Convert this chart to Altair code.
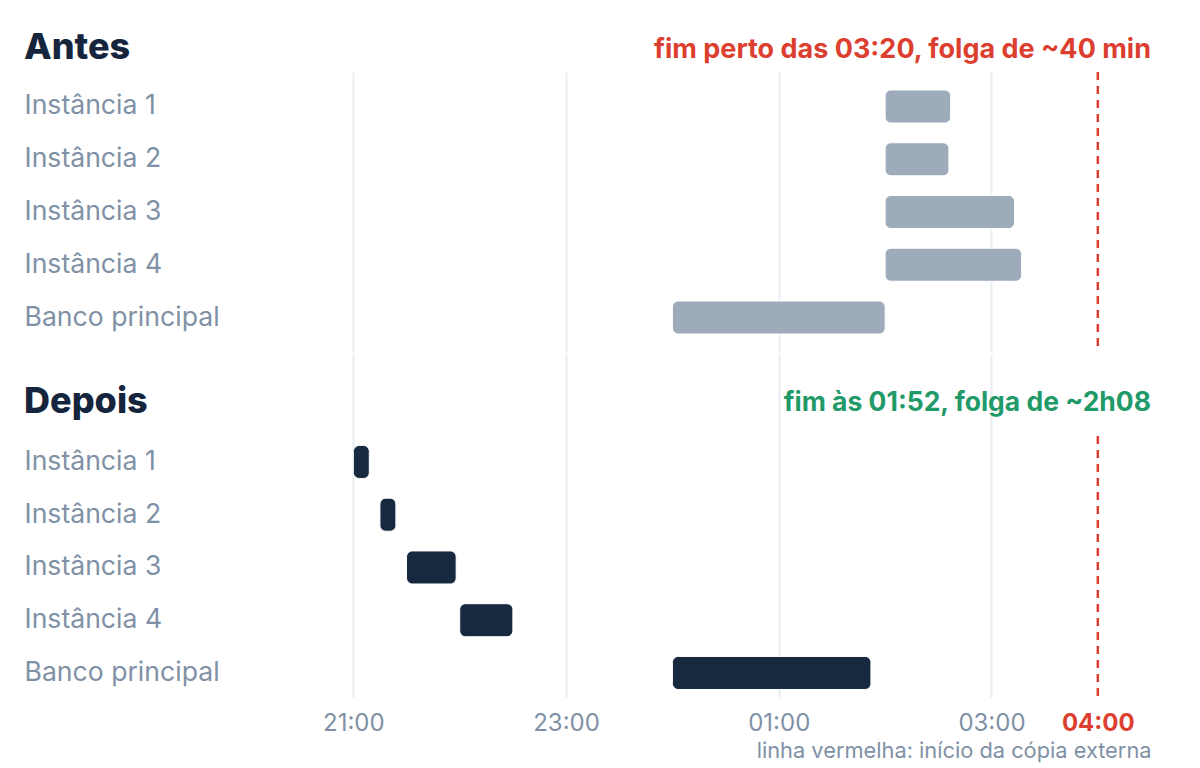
import altair as alt
import pandas as pd

# ---- data ----
linhas = ["Instância 1", "Instância 2", "Instância 3", "Instância 4", "Banco principal"]
antes_inicio = ["02:00", "02:00", "02:00", "02:00", "00:00"]
antes_fim = ["02:37", "02:36", "03:13", "03:17", "02:00"]
depois_inicio = ["21:00", "21:15", "21:30", "22:00", "00:00"]
depois_fim = ["21:09", "21:24", "21:58", "22:30", "01:52"]
ticks_horas = [21, 23, 25, 27]          # 21:00, 23:00, 01:00, 03:00
limite_hora = 28                        # 04:00 (início da cópia externa)
dominio = [20, 28.5]

nota_antes = "fim perto das 03:20, folga de ~40 min"
nota_depois = "fim às 01:52, folga de ~2h08"
legenda = "linha vermelha: início da cópia externa"

FONT = "Inter"
NAVY = "#15253d"
GRAY_TXT = "#8091a6"
GRAY_BAR = "#9dabbb"
DARK_BAR = "#17293f"
RED = "#dc3f2f"
GREEN = "#1f9a68"
GRID = "#e9edf3"
W = 904
LABEL_PAD = 223


def to_h(s):
    h, m = map(int, s.split(":"))
    v = h + m / 60
    return v + 24 if v < 12 else v


def panel(titulo, inicio, fim, cor, nota, cor_nota, note_size, height, pad_outer, align,
          is_last, title_offset, note_y):
    df = pd.DataFrame({
        "linha": linhas,
        "inicio": [to_h(s) for s in inicio],
        "fim": [to_h(s) for s in fim],
    })
    xscale = alt.Scale(domain=dominio, nice=False, zero=False)
    yscale = alt.Scale(domain=linhas, paddingInner=0.374, paddingOuter=pad_outer, align=align)
    yaxis = alt.Axis(title=None, domain=False, ticks=False, labelAlign="left",
                     labelPadding=LABEL_PAD, labelFont=FONT, labelFontSize=26.6,
                     labelColor=GRAY_TXT, labelLimit=400)
    if is_last:
        xaxis = alt.Axis(
            values=ticks_horas + [limite_hora],
            labelExpr="(datum.value % 24 < 10 ? '0' : '') + (datum.value % 24) + ':00'",
            labelColor={"condition": {"test": f"datum.value == {limite_hora}", "value": RED},
                        "value": GRAY_TXT},
            labelFontWeight={"condition": {"test": f"datum.value == {limite_hora}", "value": "bold"},
                             "value": "normal"},
            labelFont=FONT, labelFontSize=24, labelPadding=14,
            ticks=False, domain=False, grid=True, gridColor=GRID, gridWidth=2,
            gridOpacity={"condition": {"test": f"datum.value == {limite_hora}", "value": 0},
                         "value": 1},
            title=legenda, titleAnchor="end", titleAlign="right", titleFont=FONT,
            titleFontSize=21.8, titleFontWeight="normal", titleColor=GRAY_TXT, titlePadding=5,
        )
    else:
        xaxis = alt.Axis(values=ticks_horas, labels=False, ticks=False, domain=False,
                         grid=True, gridColor=GRID, gridWidth=2, title=None)

    bars = alt.Chart(df).mark_bar(cornerRadius=6, color=cor, stroke="white",
                                  strokeWidth=1).encode(
        x=alt.X("inicio:Q", scale=xscale, axis=xaxis),
        x2="fim:Q",
        y=alt.Y("linha:N", sort=linhas, scale=yscale, axis=yaxis),
    )

    rdf = pd.DataFrame({"x": [limite_hora], "linha": [linhas[0]], "linha_fim": [linhas[-1]]})
    if is_last:
        rule = alt.Chart(rdf).mark_rule(color=RED, strokeWidth=2.5, strokeDash=[8, 6],
                                        yOffset=-9.5, y2Offset=7.5).encode(
            x=alt.X("x:Q", scale=xscale),
            y=alt.Y("linha:N", scale=yscale, bandPosition=0),
            y2=alt.Y2("linha_fim:N", bandPosition=1),
        )
    else:
        rule = alt.Chart(rdf).mark_rule(color=RED, strokeWidth=2.5, strokeDash=[8, 6]).encode(
            x=alt.X("x:Q", scale=xscale),
        )

    ndf = pd.DataFrame({"x": [dominio[1]], "t": [nota]})
    note = alt.Chart(ndf).mark_text(align="right", baseline="alphabetic", font=FONT,
                                    fontSize=note_size, fontWeight="bold",
                                    color=cor_nota).encode(
        x=alt.X("x:Q", scale=xscale),
        y=alt.value(note_y),
        text="t:N",
    )

    return alt.layer(bars, rule, note).properties(
        width=W, height=height,
        title=alt.TitleParams(titulo, anchor="start", frame="group", dx=-LABEL_PAD,
                              offset=title_offset, baseline="alphabetic", font=FONT,
                              fontSize=36, fontWeight=800, color=NAVY),
    )


antes = panel("Antes", antes_inicio, antes_fim, GRAY_BAR, nota_antes, RED, 27,
              280, 0.341, 0.5, False, -59, -14)
depois = panel("Depois", depois_inicio, depois_fim, DARK_BAR, nota_depois, GREEN, 26.5,
               343, 0.938, 0.924, True, -95, 57)

chart = alt.vconcat(antes, depois, spacing=0).resolve_scale(y="independent").properties(
    padding={"left": 16, "top": 22, "right": 10, "bottom": 4},
    background="white",
).configure_view(stroke=None)

chart.save("out.html", embed_options={"renderer": "svg", "actions": False})
